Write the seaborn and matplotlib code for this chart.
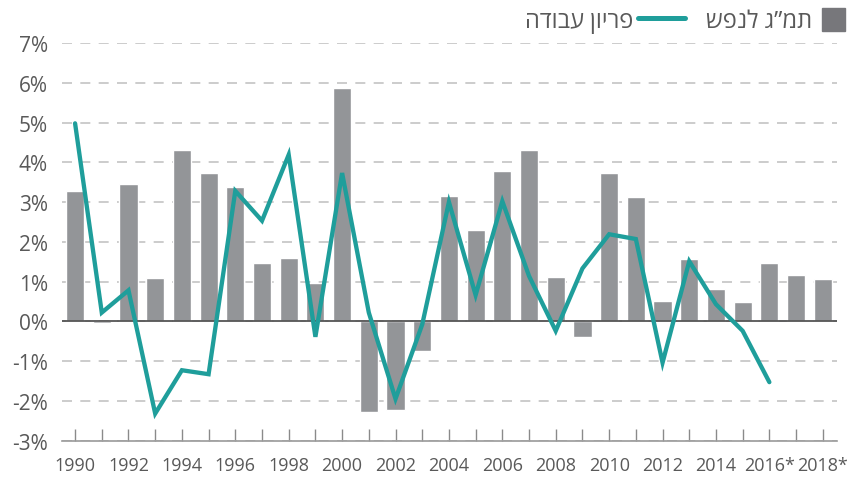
import numpy as np
import pandas as pd
import seaborn as sns
import matplotlib.pyplot as plt
from matplotlib.lines import Line2D
from matplotlib.patches import Rectangle

# GDP per capita growth (bars) and labour productivity growth (line), %
years = list(range(1990, 2019))
gdp = [3.27, -0.04, 3.45, 1.08, 4.31, 3.73, 3.38, 1.46, 1.59, 0.97,
       5.87, -2.28, -2.23, -0.75, 3.16, 2.29, 3.78, 4.31, 1.11, -0.39,
       3.73, 3.12, 0.50, 1.56, 0.81, 0.48, 1.46, 1.16, 1.06]
prod_years = list(range(1990, 2017))
prod = [4.98, 0.22, 0.78, -2.32, -1.23, -1.33, 3.28, 2.53, 4.19, -0.39,
        3.73, 0.22, -1.95, -0.08, 3.00, 0.66, 3.02, 1.14, -0.24, 1.33,
        2.19, 2.07, -1.04, 1.51, 0.43, -0.24, -1.53]
label_years = ["1990", "1992", "1994", "1996", "1998", "2000", "2002", "2004",
               "2006", "2008", "2010", "2012", "2014", "2016*", "2018*"]
y_ticks = [-3, -2, -1, 0, 1, 2, 3, 4, 5, 6, 7]

# legend labels (reversed so matplotlib draws the Hebrew right-to-left)
lbl_gdp = "תמ”ג לנפש"[::-1]
lbl_prod = "פריון עבודה"[::-1]

BAR = "#939598"
TEAL = "#1f9e9b"
TXT = "#595959"

sns.set_style("white")
plt.rcParams["font.family"] = ["Open Sans", "DejaVu Sans"]

bars_df = pd.DataFrame({"year": years, "gdp": gdp})
line_df = pd.DataFrame({"year": prod_years, "prod": prod})

W, H = 867, 481
fig = plt.figure(figsize=(W / 100, H / 100), dpi=100)
ax = fig.add_axes([0.0715, 0.0819, 0.8935, 0.8266])

sns.barplot(data=bars_df, x="year", y="gdp", native_scale=True, width=0.68,
            color=BAR, saturation=1, errorbar=None, ax=ax, zorder=2)
sns.lineplot(data=line_df, x="year", y="prod", color=TEAL, lw=3.1, ax=ax,
             zorder=4, solid_joinstyle="miter")

ax.set_ylim(-3, 7)
ax.set_xlim(years[0] - 0.49, years[-1] + 0.52)
ax.set_yticks(y_ticks)
ax.set_yticklabels([f"{v}%" for v in y_ticks], fontsize=15, color=TXT)
ax.set_xticks(years)
xl = []
for y in years:
    lab = ""
    for s in label_years:
        if s.rstrip("*") == str(y):
            lab = s
    xl.append(lab)
ax.set_xticklabels(xl, fontsize=13, color=TXT)
ax.set_xlabel("")
ax.set_ylabel("")

# dashed horizontal grid, solid zero line
ax.yaxis.grid(True, color="#c4c4c4", lw=1.2, linestyle=(0, (6, 5)), zorder=0)
ax.set_axisbelow(True)
ax.axhline(0, color="#555555", lw=1.3, zorder=3)

ax.tick_params(axis="x", direction="in", length=9, width=1, color="#8a8a8a",
               pad=11, bottom=True)
ax.tick_params(axis="y", length=0, pad=10)
for s in ["top", "right", "left"]:
    ax.spines[s].set_visible(False)
ax.spines["bottom"].set_color("#9a9a9a")
ax.spines["bottom"].set_linewidth(1.2)

# legend, laid out right-to-left at the top right
fig.patches.append(Rectangle((822 / W, 1 - 32 / H), 23 / W, 23 / H,
                             transform=fig.transFigure, color="#77777b"))
fig.text(812 / W, 1 - 28 / H, lbl_gdp, ha="right", va="baseline",
         fontsize=17, color=TXT)
fig.lines.append(Line2D([638 / W, 685 / W], [1 - 19 / H, 1 - 19 / H],
                        transform=fig.transFigure, color=TEAL, lw=3.6))
fig.text(633 / W, 1 - 28 / H, lbl_prod, ha="right", va="baseline",
         fontsize=17, color=TXT)

fig.savefig("out.png", dpi=100)
